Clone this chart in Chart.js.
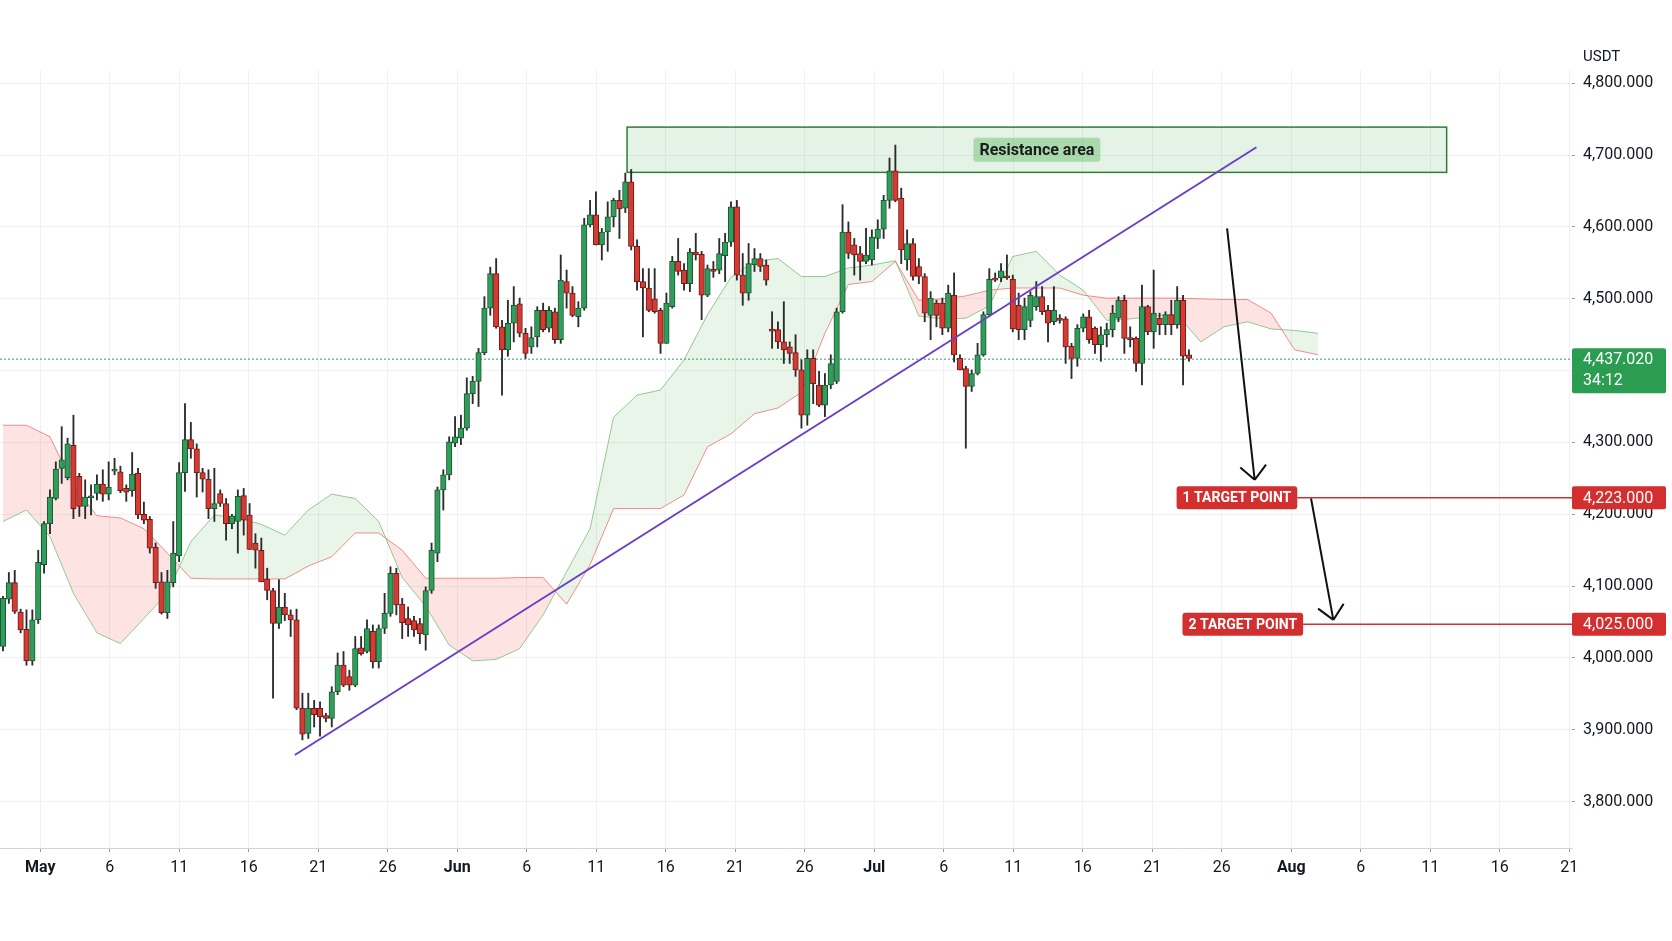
<!DOCTYPE html>
<html>
<head>
<meta charset="utf-8">
<script src="https://cdn.jsdelivr.net/npm/chart.js@4.4.1/dist/chart.umd.min.js"></script>
<style>
  html, body { margin: 0; padding: 0; background: #fff; }
  #wrap { width: 1672px; height: 941px; position: relative; }
</style>
</head>
<body>
<div id="wrap"><canvas id="chart"></canvas></div>
<script>
// 12h candles, index 0 = first visible candle
const opens = [
  4016,4082,4105,4064,4040,3996,4053,4130,4187,4222,
  4264,4251,4296,4253,4211,4223,4229,4242,4228,4260,
  4259,4236,4233,4257,4200,4193,4154,4106,4063,4105,
  4142,4258,4304,4291,4258,4249,4208,4229,4215,4187,4190,
  4226,4199,4160,4150,4110,4094,4048,4071,4060,
  4053,3930,3895,3930,3930,3920,3916,3953,3990,3974,
  3962,4014,4009,4037,3995,4041,4062,4118,4075,4055,
  4052,4048,4032,4094,4146,4234,4255,4299,4306,4320,
  4368,4385,4425,4487,4535,4461,4429,4466,4493,4452,
  4433,4447,4484,4459,4482,4443,4524,4508,4475,4487,
  4603,4617,4575,4593,4614,4637,4626,4663,4573,4524,
  4515,4500,4484,4438,4489,4552,4540,4521,4565,4562,4505,4541,
  4540,4560,4579,4628,4533,4508,4547,4556,4547,
  4457,4457,4440,4433,4425,4401,4338,4417,4380,
  4352,4380,4385,4482,4593,4575,4563,4552,4554,4584,
  4597,4637,4678,4640,4554,4577,4545,4531,4477,4494,4494,4459,
  4505,4417,4403,4378,4396,4422,4478,4528,4529,4532,
  4527,4491,4457,4470,4489,4503,4484,4468,4473,4472,
  4434,4417,4459,4475,4459,4436,4450,4457,4473,4498,
  4446,4445,4410,4489,4454,4473,4464,4478,4464,4498,4422
];
const highs = [
  4086,4119,4122,4068,4067,4067,4150,4190,4234,4273,
  4322,4306,4338,4257,4248,4241,4255,4262,4273,4278,
  4267,4241,4286,4264,4217,4197,4160,4119,4122,4190,
  4272,4354,4328,4298,4264,4262,4264,4234,4222,4200,4234,
  4236,4215,4173,4167,4125,4097,4109,4090,4067,
  4068,3951,3951,3941,3939,3923,3960,4007,4009,3983,
  4030,4030,4053,4046,4046,4090,4127,4125,4083,4071,
  4058,4055,4099,4160,4238,4262,4308,4336,4338,4390,
  4392,4431,4503,4544,4556,4470,4498,4517,4501,4459,
  4461,4489,4494,4489,4487,4561,4540,4517,4496,4612,
  4637,4649,4598,4635,4640,4651,4675,4680,4582,4542,
  4542,4542,4487,4508,4559,4584,4549,4570,4591,4566,4547,4552,
  4584,4591,4635,4637,4563,4577,4570,4563,4554,
  4482,4468,4496,4440,4450,4415,4429,4429,4399,
  4396,4422,4487,4631,4607,4584,4573,4598,4596,4610,
  4644,4696,4714,4654,4596,4584,4556,4535,4510,4498,4501,4519,
  4536,4422,4406,4401,4438,4482,4542,4536,4549,4561,
  4533,4508,4501,4510,4524,4517,4491,4517,4478,4475,
  4438,4464,4479,4484,4461,4461,4466,4491,4503,4505,
  4461,4447,4519,4491,4540,4480,4482,4498,4517,4505,4429
];
const lows = [
  4010,4076,4062,4035,3990,3990,4048,4118,4173,4220,
  4243,4248,4194,4197,4194,4199,4220,4218,4220,4255,
  4230,4218,4225,4194,4187,4146,4097,4061,4055,4099,
  4134,4232,4278,4224,4231,4194,4190,4211,4164,4180,4146,
  4171,4151,4125,4106,4081,3944,4041,4052,4030,
  3928,3886,3888,3904,3891,3911,3904,3949,3960,3955,
  3960,4004,4007,3986,3986,4034,4058,4060,4027,4030,
  4030,4020,4011,4090,4134,4206,4248,4294,4297,4317,
  4354,4350,4422,4477,4459,4366,4420,4440,4447,4417,
  4424,4433,4454,4454,4438,4438,4487,4475,4461,4484,
  4600,4575,4554,4566,4600,4584,4620,4568,4512,4447,
  4482,4480,4424,4438,4487,4533,4512,4510,4554,4471,4503,4530,
  4535,4524,4573,4526,4491,4498,4538,4538,4519,
  4431,4431,4410,4410,4392,4320,4324,4354,4350,
  4336,4375,4382,4480,4556,4533,4526,4549,4547,4570,
  4584,4626,4635,4549,4540,4526,4521,4468,4443,4461,4450,4454,
  4412,4401,4292,4371,4394,4420,4475,4524,4524,4527,
  4454,4443,4443,4461,4484,4478,4440,4464,4466,4410,
  4389,4406,4454,4438,4424,4413,4433,4447,4468,4424,
  4433,4399,4380,4450,4431,4450,4450,4450,4459,4380,4413
];
const closes = [
  4083,4105,4065,4039,3996,4053,4133,4187,4224,4263,
  4276,4298,4208,4211,4224,4225,4242,4228,4238,4263,
  4233,4231,4256,4199,4192,4153,4105,4063,4106,4146,
  4258,4304,4291,4258,4249,4208,4215,4215,4187,4198,4225,
  4192,4151,4150,4106,4094,4048,4071,4060,4053,
  3930,3894,3930,3921,3918,3916,3953,3990,3962,3962,
  4013,4006,4041,3995,4041,4062,4118,4074,4049,4046,
  4039,4034,4094,4150,4234,4255,4301,4308,4320,4368,
  4385,4425,4487,4535,4461,4429,4466,4491,4452,4424,
  4446,4484,4457,4484,4443,4526,4508,4477,4487,4603,
  4617,4575,4593,4614,4637,4625,4663,4573,4524,4515,
  4484,4482,4438,4494,4552,4538,4521,4565,4561,4505,4542,4538,
  4563,4579,4628,4533,4508,4549,4556,4545,4526,
  4455,4440,4429,4424,4401,4338,4417,4382,4352,
  4380,4410,4482,4593,4563,4561,4552,4561,4586,4597,
  4637,4678,4637,4568,4577,4531,4531,4480,4501,4477,4459,4508,
  4422,4401,4378,4396,4422,4478,4527,4526,4539,4529,
  4458,4457,4489,4505,4503,4482,4466,4484,4470,4433,
  4417,4459,4475,4443,4436,4450,4457,4480,4498,4445,
  4443,4410,4489,4454,4480,4464,4478,4464,4498,4420,4417
];

// Ichimoku cloud, one value every 4 candles (runs ahead of the last candle)
const cloudStep = 4;
const spanA = [
  4190,4206,4169,4090,4035,4020,4055,4090,4162,4199,
  4195,4186,4171,4206,4228,4222,4190,4112,4072,4018,
  3996,3998,4013,4060,4120,4180,4335,4366,4373,4415,
  4478,4530,4552,4556,4531,4531,4543,4547,4553,4476,
  4472,4473,4490,4559,4566,4533,4512,4470,4472,4476,
  4478,4440,4461,4468,4458,4456,4452
];
const spanB = [
  4324,4324,4308,4240,4198,4195,4180,4146,4111,4110,
  4110,4110,4110,4128,4141,4174,4174,4150,4111,4111,
  4111,4111,4112,4112,4075,4130,4208,4208,4208,4227,
  4294,4312,4340,4348,4370,4452,4520,4524,4552,4498,
  4500,4504,4512,4515,4515,4515,4505,4501,4501,4501,
  4501,4500,4499,4499,4480,4429,4422
];

const xTickLabels = ["May","6","11","16","21","26","Jun","6","11","16","21","26",
  "Jul","6","11","16","21","26","Aug","6","11","16","21"];
const monthNames = ["May","Jun","Jul","Aug"];

// drawings on the chart, in candle index / price units
const trendLine = [{ x: 49.7, y: 3865 }, { x: 213.5, y: 4711 }];
const resistance = { from: 106.3, to: 245.9, low: 4676, high: 4739, text: "Resistance area" };
const targets = [
  { text: "1 TARGET POINT", price: "4,223.000", level: 4223, from: 199.9 },
  { text: "2 TARGET POINT", price: "4,025.000", level: 4047, from: 200.9 }
];
const lastPrice = { level: 4416, text: "4,437.020", timer: "34:12" };
const arrows = [
  [208.5, 4598, 213.2, 4248],
  [222.8, 4222, 226.6, 4053]
];

const up = closes.map((c, i) => c >= opens[i]);
const bodies = opens.map((o, i) => ({ x: i, y: [o, closes[i]] }));
const wicks = highs.map((h, i) => ({ x: i, y: [lows[i], h] }));

function roundBox(ctx, x, y, w, h, r) {
  ctx.beginPath();
  if (ctx.roundRect) ctx.roundRect(x, y, w, h, r);
  else ctx.rect(x, y, w, h);
  ctx.fill();
}

const overlay = {
  id: 'overlay',
  beforeDatasetsDraw(chart) {
    const { ctx, chartArea: a, scales: { x, y } } = chart;
    ctx.save();
    const x0 = x.getPixelForValue(resistance.from), x1 = x.getPixelForValue(resistance.to);
    const y0 = y.getPixelForValue(resistance.high), y1 = y.getPixelForValue(resistance.low);
    ctx.fillStyle = 'rgba(76,175,80,0.15)';
    ctx.fillRect(x0, y0, x1 - x0, y1 - y0);
    ctx.strokeStyle = '#2e7d32';
    ctx.lineWidth = 1.5;
    ctx.strokeRect(x0, y0, x1 - x0, y1 - y0);

    const ly = y.getPixelForValue(lastPrice.level);
    ctx.setLineDash([2, 2]);
    ctx.strokeStyle = '#2a9d6a';
    ctx.lineWidth = 1;
    ctx.beginPath();
    ctx.moveTo(a.left, ly);
    ctx.lineTo(a.right, ly);
    ctx.stroke();
    ctx.restore();
  },
  afterDraw(chart) {
    const { ctx, chartArea: a, scales: { x, y } } = chart;
    ctx.save();
    ctx.textBaseline = 'middle';

    // resistance label
    const cx = (x.getPixelForValue(resistance.from) + x.getPixelForValue(resistance.to)) / 2;
    const cy = (y.getPixelForValue(resistance.high) + y.getPixelForValue(resistance.low)) / 2;
    ctx.font = 'bold 16px Roboto';
    const rw = ctx.measureText(resistance.text).width + 12;
    ctx.fillStyle = 'rgba(76,175,80,0.38)';
    roundBox(ctx, cx - rw / 2, cy - 12, rw, 24, 3);
    ctx.fillStyle = '#1b1b1b';
    ctx.textAlign = 'center';
    ctx.fillText(resistance.text, cx, cy + 1);

    // target lines and labels
    targets.forEach(t => {
      const ty = y.getPixelForValue(t.level);
      const tx = x.getPixelForValue(t.from);
      ctx.font = 'bold 14px Roboto';
      const tw = ctx.measureText(t.text).width + 12;
      ctx.strokeStyle = '#d32f2f';
      ctx.lineWidth = 1.5;
      ctx.beginPath();
      ctx.moveTo(tx + tw, ty);
      ctx.lineTo(a.right, ty);
      ctx.stroke();
      ctx.fillStyle = '#d32f2f';
      roundBox(ctx, tx, ty - 11.5, tw, 23, 3);
      ctx.fillStyle = '#fff';
      ctx.textAlign = 'center';
      ctx.fillText(t.text, tx + tw / 2, ty + 1);
      ctx.fillStyle = '#d32f2f';
      roundBox(ctx, a.right, ty - 11.5, 94, 23, 2);
      ctx.fillStyle = '#fff';
      ctx.textAlign = 'left';
      ctx.font = '16px Roboto';
      ctx.fillText(t.price, a.right + 11, ty + 1);
    });

    // arrows
    ctx.strokeStyle = '#111';
    ctx.lineWidth = 2;
    arrows.forEach(([t0, p0, t1, p1]) => {
      const ax = x.getPixelForValue(t0), ay = y.getPixelForValue(p0);
      const bx = x.getPixelForValue(t1), by = y.getPixelForValue(p1);
      const ang = Math.atan2(by - ay, bx - ax);
      ctx.beginPath();
      ctx.moveTo(ax, ay);
      ctx.lineTo(bx, by);
      [0.75, -0.75].forEach(d => {
        ctx.moveTo(bx, by);
        ctx.lineTo(bx - 19 * Math.cos(ang + d), by - 19 * Math.sin(ang + d));
      });
      ctx.stroke();
    });

    // last price tag
    const ly = y.getPixelForValue(lastPrice.level);
    ctx.fillStyle = '#2a9d50';
    roundBox(ctx, a.right, ly - 11, 94, 45, 2);
    ctx.fillStyle = '#fff';
    ctx.textAlign = 'left';
    ctx.font = '16px Roboto';
    ctx.fillText(lastPrice.text, a.right + 11, ly + 1);
    ctx.fillText(lastPrice.timer, a.right + 11, ly + 22);

    // currency
    ctx.fillStyle = '#131722';
    ctx.font = '15px Roboto';
    ctx.fillText('USDT', a.right + 11, 57);
    ctx.restore();
  }
};

new Chart(document.getElementById('chart'), {
  type: 'bar',
  data: {
    datasets: [
      {
        type: 'line',
        label: 'Leading Span A',
        data: spanA.map((v, k) => ({ x: k * cloudStep, y: v })),
        borderColor: 'rgba(76,175,80,0.6)',
        borderWidth: 1,
        pointRadius: 0,
        fill: false,
        order: 10
      },
      {
        type: 'line',
        label: 'Leading Span B',
        data: spanB.map((v, k) => ({ x: k * cloudStep, y: v })),
        borderColor: 'rgba(239,83,80,0.65)',
        borderWidth: 1,
        pointRadius: 0,
        fill: { target: 0, above: 'rgba(244,67,54,0.14)', below: 'rgba(76,175,80,0.13)' },
        order: 9
      },
      {
        label: 'Wicks',
        data: wicks,
        backgroundColor: '#2b2b2b',
        barThickness: 1.2,
        grouped: false,
        order: 3
      },
      {
        label: 'Bodies',
        data: bodies,
        backgroundColor: up.map(u => u ? '#2f9e5b' : '#d63a32'),
        borderColor: up.map(u => u ? '#1d5532' : '#701b17'),
        borderWidth: 1,
        borderSkipped: false,
        barThickness: 5.5,
        minBarLength: 2,
        grouped: false,
        order: 2
      },
      {
        type: 'line',
        label: 'Trend',
        data: trendLine,
        borderColor: '#6b3fc4',
        borderWidth: 2,
        pointRadius: 0,
        order: 1
      }
    ]
  },
  options: {
    responsive: true,
    maintainAspectRatio: false,
    animation: false,
    layout: { padding: { top: 70, left: 0, right: 0, bottom: 0 } },
    plugins: { legend: { display: false }, tooltip: { enabled: false } },
    scales: {
      x: {
        type: 'linear',
        min: -0.51,
        max: 267.25,
        offset: false,
        grid: { color: '#eff1f4', offset: false, tickLength: 4, tickColor: '#9598a1' },
        border: { display: true, color: '#d1d4dc' },
        afterBuildTicks: s => { s.ticks = xTickLabels.map((_, j) => ({ value: 6.353 + 11.838 * j })); },
        afterFit: s => { s.height = 93; },
        ticks: {
          autoSkip: false,
          maxRotation: 0,
          padding: 6,
          color: '#131722',
          font: c => ({ family: 'Roboto', size: 16, weight: monthNames.includes(xTickLabels[c.index]) ? 'bold' : 'normal' }),
          callback: (v, i) => xTickLabels[i]
        }
      },
      y: {
        position: 'right',
        min: 3735.5,
        max: 4818.5,
        grid: { color: '#eff1f4', tickLength: 3, tickColor: '#9598a1' },
        border: { display: false },
        afterFit: s => { s.width = 100; },
        ticks: {
          stepSize: 100,
          includeBounds: false,
          padding: 8,
          color: '#131722',
          font: { family: 'Roboto', size: 16 },
          callback: v => v.toLocaleString('en-US', { minimumFractionDigits: 3, maximumFractionDigits: 3 })
        }
      }
    }
  },
  plugins: [overlay]
});
</script>
</body>
</html>
